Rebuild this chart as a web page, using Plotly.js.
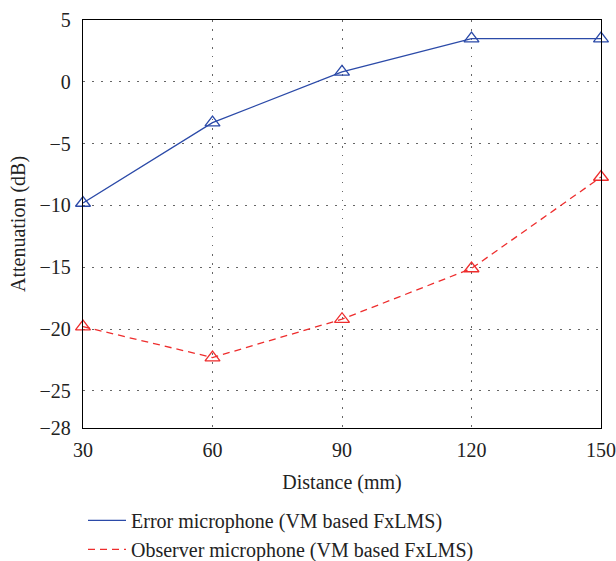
<!DOCTYPE html>
<html><head><meta charset="utf-8">
<script src="https://cdn.plot.ly/plotly-3.0.1.min.js"></script>
<style>html,body{margin:0;padding:0;background:#fff}#chart{width:616px;height:561px}</style>
</head><body><div id="chart"></div>
<script>
const distance = [30, 60, 90, 120, 150];
const errorMic = [-9.8, -3.3, 0.8, 3.5, 3.5];
const observerMic = [-19.8, -22.3, -19.2, -15.1, -7.7];
const yTicks = [5, 0, -5, -10, -15, -20, -25, -28];
const xTicks = [30, 60, 90, 120, 150];
const blue = '#2b4aa8', red = '#ee2d2d';
const font = {family: 'Liberation Serif, DejaVu Serif, serif', size: 20, color: '#222'};
const legendFont = {family: 'Liberation Serif, DejaVu Serif, serif', size: 20, color: '#222'};
const traces = [
  {x: distance, y: errorMic, mode: 'lines', name: 'Error microphone (VM based FxLMS)', line: {color: blue, width: 1.3}},
  {x: distance, y: observerMic, mode: 'lines', name: 'Observer microphone (VM based FxLMS)', line: {color: red, width: 1.3, dash: '7px,5px'}},
  {x: distance, y: errorMic, mode: 'markers', showlegend: false, cliponaxis: false, marker: {symbol: 'triangle-up-open', size: 13, color: blue, line: {width: 1.3}}},
  {x: distance, y: observerMic, mode: 'markers', showlegend: false, cliponaxis: false, marker: {symbol: 'triangle-up-open', size: 13, color: red, line: {width: 1.3}}}
];
const layout = {
  width: 616, height: 561,
  margin: {l: 83, r: 15, t: 20, b: 133, autoexpand: false},
  font: font,
  paper_bgcolor: '#fff', plot_bgcolor: '#fff',
  showlegend: true,
  legend: {x: 0.0, xref: 'paper', y: 0.107, yref: 'container', xanchor: 'left', yanchor: 'top', orientation: 'v', font: legendFont, bgcolor: 'rgba(0,0,0,0)', tracegroupgap: 0, itemwidth: 38},
  xaxis: {
    range: [30, 150], tickvals: xTicks, ticktext: xTicks.map(String),
    showline: true, mirror: true, linecolor: '#000', linewidth: 1.3,
    showgrid: true, gridcolor: '#666', griddash: '1.5px,7.5px', gridwidth: 1,
    zeroline: false, ticks: '', automargin: false, ticklabelstandoff: 4,
    title: {text: 'Distance (mm)', font: font, standoff: 14}
  },
  yaxis: {
    range: [-28, 5], tickvals: yTicks, ticktext: yTicks.map(v => v < 0 ? '\u2212' + Math.abs(v) : String(v)),
    showline: true, mirror: true, linecolor: '#000', linewidth: 1.3,
    showgrid: true, gridcolor: '#666', griddash: '1.5px,7.5px', gridwidth: 1,
    zeroline: false, ticks: '', automargin: false, ticklabelstandoff: 7,
    title: {text: 'Attenuation (dB)', font: font, standoff: 8}
  }
};
Plotly.newPlot('chart', traces, layout, {displayModeBar: false, staticPlot: true});
</script></body></html>
